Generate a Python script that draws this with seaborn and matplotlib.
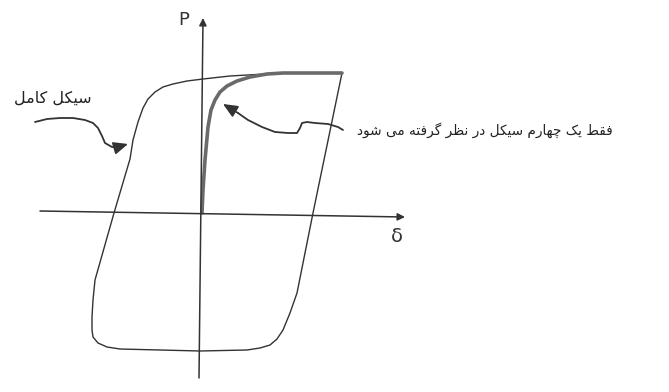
import matplotlib
matplotlib.use("Agg")

import matplotlib.pyplot as plt
import seaborn as sns


# ------------------------------------------------------------
# Data (delta, P), origin where the axes cross
# ------------------------------------------------------------

# full hysteresis cycle (closed loop)
loop_delta = [140, 81, 28, 1, -15, -29, -39, -47, -54, -59, -64, -69,
              -72, -88, -107, -109, -110, -110, -109, -104, -95, -82,
              -2, 45, 58, 68, 75, 81, 88, 95, 111, 140]
loop_p = [140, 140, 137, 134, 132, 129, 126, 121, 114, 105, 91, 73,
          54, 0, -67, -87, -104, -117, -124, -130, -134, -136,
          -138, -137, -135, -132, -126, -117, -100, -80, 0, 140]

# quarter cycle (thick grey curve)
quarter_delta = [0, 1, 3, 6, 9, 13, 18, 25, 35, 48, 65, 81, 140]
quarter_p = [0, 23, 53, 86, 103, 113, 121, 127, 132, 136, 139, 140, 140]

# hand drawn pointer arrows
left_arrow_delta = [-167, -155, -142, -129, -117, -109, -104, -100, -97,
                    -90, -84, -74]
left_arrow_p = [91, 94, 95, 95, 93, 90, 85, 77, 70, 66, 66, 69]
right_arrow_delta = [141, 136, 126, 113, 105, 100, 98, 95, 86, 73, 60,
                     46, 36, 21]
right_arrow_p = [83, 86, 89, 90, 91, 90, 85, 80, 80, 81, 86, 93, 100, 109]

# axes lines (start, end)
h_axis_delta = [-162, 203]
h_axis_p = [2, -4]
v_axis_delta = [-3, 1]
v_axis_p = [-165, 195]

full_cycle_label = "سیکل کامل"
quarter_label = "فقط یک چهارم سیکل در نظر گرفته می شود"


# ------------------------------------------------------------
# Minimal Persian shaping (matplotlib has no complex text layout)
# ------------------------------------------------------------

FORMS = {
    "ا": ("\uFE8D", "\uFE8E"),
    "د": ("\uFEA9", "\uFEAA"),
    "ر": ("\uFEAD", "\uFEAE"),
    "و": ("\uFEED", "\uFEEE"),
    "ت": ("\uFE95", "\uFE96", "\uFE97", "\uFE98"),
    "س": ("\uFEB1", "\uFEB2", "\uFEB3", "\uFEB4"),
    "ش": ("\uFEB5", "\uFEB6", "\uFEB7", "\uFEB8"),
    "ط": ("\uFEC1", "\uFEC2", "\uFEC3", "\uFEC4"),
    "ظ": ("\uFEC5", "\uFEC6", "\uFEC7", "\uFEC8"),
    "ف": ("\uFED1", "\uFED2", "\uFED3", "\uFED4"),
    "ق": ("\uFED5", "\uFED6", "\uFED7", "\uFED8"),
    "ل": ("\uFEDD", "\uFEDE", "\uFEDF", "\uFEE0"),
    "م": ("\uFEE1", "\uFEE2", "\uFEE3", "\uFEE4"),
    "ن": ("\uFEE5", "\uFEE6", "\uFEE7", "\uFEE8"),
    "ه": ("\uFEE9", "\uFEEA", "\uFEEB", "\uFEEC"),
    "ی": ("\uFBFC", "\uFBFD", "\uFBFE", "\uFBFF"),
    "ک": ("\uFB8E", "\uFB8F", "\uFB90", "\uFB91"),
    "گ": ("\uFB92", "\uFB93", "\uFB94", "\uFB95"),
    "چ": ("\uFB7A", "\uFB7B", "\uFB7C", "\uFB7D"),
}


def shape(text):
    out = []
    for i, ch in enumerate(text):
        if ch not in FORMS:
            out.append(ch)
            continue
        prev = text[i - 1] if i > 0 else ""
        nxt = text[i + 1] if i + 1 < len(text) else ""
        joins_prev = prev in FORMS and len(FORMS[prev]) == 4
        joins_next = len(FORMS[ch]) == 4 and nxt in FORMS
        forms = FORMS[ch]
        if joins_prev and joins_next:
            out.append(forms[3])
        elif joins_prev:
            out.append(forms[1])
        elif joins_next:
            out.append(forms[2])
        else:
            out.append(forms[0])
    return "".join(reversed(out))


# ------------------------------------------------------------
# Figure
# ------------------------------------------------------------

sns.set_theme(style="white")
plt.rcParams["font.family"] = ["DejaVu Sans"]

INK = "#333333"
GREY = "#6a6a6a"

fig = plt.figure(figsize=(6.69, 3.92), dpi=100)
ax = fig.add_axes([0, 0, 1, 1])
ax.set_xlim(-202, 467)
ax.set_ylim(-179, 213)
ax.axis("off")

# axes with arrow heads
for xs, ys in [(h_axis_delta, h_axis_p), (v_axis_delta, v_axis_p)]:
    ax.annotate(
        "", xy=(xs[1], ys[1]), xytext=(xs[0], ys[0]),
        arrowprops=dict(arrowstyle="-|>", color=INK, lw=1.1,
                        mutation_scale=11, shrinkA=0, shrinkB=0),
    )

# full cycle
sns.lineplot(x=loop_delta, y=loop_p, sort=False, estimator=None,
             color=INK, linewidth=1.0, ax=ax)

# quarter cycle
sns.lineplot(x=quarter_delta, y=quarter_p, sort=False, estimator=None,
             color=GREY, linewidth=2.6, ax=ax)

for ln in ax.get_lines():
    ln.set_solid_joinstyle("round")
    ln.set_solid_capstyle("round")

# pointer arrows
for xs, ys in [(left_arrow_delta, left_arrow_p),
               (right_arrow_delta, right_arrow_p)]:
    sns.lineplot(x=xs[:-1], y=ys[:-1], sort=False, estimator=None,
                 color=INK, linewidth=1.3, ax=ax)
    ax.annotate(
        "", xy=(xs[-1], ys[-1]), xytext=(xs[-2], ys[-2]),
        arrowprops=dict(arrowstyle="-|>,head_length=0.8,head_width=0.35",
                        color=INK, lw=1.2, mutation_scale=11,
                        shrinkA=0, shrinkB=0),
    )

# labels
ax.text(-18, 193, "P", fontsize=13, color=INK, ha="center", va="center")
ax.text(195, -23, "δ", fontsize=14, color=INK, ha="center", va="center")
ax.text(-149, 115, shape(full_cycle_label), fontsize=11.5, color="#222222",
        ha="center", va="center")
ax.text(283, 83, shape(quarter_label), fontsize=9.8, color="#222222",
        ha="center", va="center")

fig.savefig("out.png", dpi=100)
plt.close(fig)
